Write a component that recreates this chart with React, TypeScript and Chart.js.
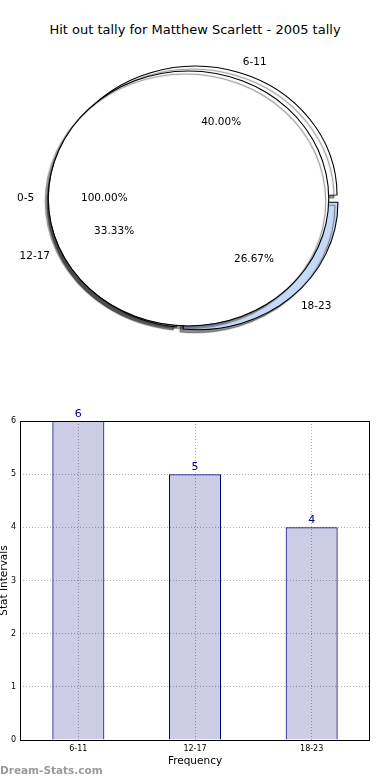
import React, { useEffect, useRef } from 'react';
import { Chart, registerables } from 'chart.js';

Chart.register(...registerables);

const FONT = '"DejaVu Sans", sans-serif';

const TITLE = 'Hit out tally for Matthew Scarlett - 2005 tally';

// Pie: wedges listed clockwise starting at 3 o'clock
const sliceLabels = ['18-23', '12-17', '6-11'];
const sliceValues = [4, 5, 6];
const sliceColors = ['#c6d9f7', '#ffffff', '#ffffff'];
const sliceExplode = [5, 3, 3.5];
const fullLabels = ['0-5'];
const fullValues = [1];
const fullPctText = ['100.00%'];

// Bar chart
const barCategories = ['6-11', '12-17', '18-23'];
const barValues = [6, 5, 4];
const yMin = 0;
const yMax = 6;

const SX = 1.1; // horizontal stretch of the pie (ellipse)
const R = 127.5;

function ellipsePlugin(id: string) {
  return {
    id,
    beforeDatasetsDraw(chart: any) {
      const ctx = chart.ctx;
      const { left, right } = chart.chartArea;
      const cx = (left + right) / 2;
      ctx.save();
      ctx.translate(cx, 0);
      ctx.scale(SX, 1);
      ctx.translate(-cx, 0);
      ctx.shadowColor = 'rgba(0,0,0,0.45)';
      ctx.shadowOffsetX = -3;
      ctx.shadowOffsetY = 3;
      ctx.shadowBlur = 1;
    },
    afterDatasetsDraw(chart: any) {
      chart.ctx.restore();
    },
  };
}

export default function App() {
  const pieRef = useRef<HTMLCanvasElement>(null);
  const discRef = useRef<HTMLCanvasElement>(null);
  const barRef = useRef<HTMLCanvasElement>(null);

  useEffect(() => {
    const total = sliceValues.reduce((a, b) => a + b, 0);
    const slicePct = sliceValues.map((v) => ((v / total) * 100).toFixed(2) + '%');

    const pie = new Chart(pieRef.current as HTMLCanvasElement, {
      type: 'pie',
      data: {
        labels: sliceLabels,
        datasets: [
          {
            data: sliceValues,
            backgroundColor: sliceColors,
            borderColor: '#000',
            borderWidth: 1,
            offset: sliceExplode.map((d) => d * 4),
            clip: false,
          } as any,
        ],
      },
      options: {
        responsive: false,
        animation: false,
        events: [],
        radius: R,
        rotation: 90,
        layout: { padding: { top: 17, right: 2, left: 0, bottom: 0 } },
        plugins: { legend: { display: false }, tooltip: { enabled: false } },
      } as any,
      plugins: [ellipsePlugin('ellA')],
    });

    const labelPlugin = {
      id: 'pieLabels',
      afterDraw(chart: any) {
        const ctx = chart.ctx;
        ctx.save();
        ctx.font = `10.5px ${FONT}`;
        ctx.fillStyle = '#000';
        ctx.textBaseline = 'middle';
        const drawFor = (c: any, dsIndex: number, labels: string[], pcts: string[]) => {
          const { left, right } = c.chartArea;
          const cxA = (left + right) / 2;
          const meta = c.getDatasetMeta(dsIndex);
          meta.data.forEach((arc: any, i: number) => {
            const mid = (arc.startAngle + arc.endAngle) / 2;
            const off = (arc.options.offset || 0) / 4;
            const ox = arc.x + Math.cos(mid) * off;
            const oy = arc.y + Math.sin(mid) * off;
            const sx = (x: number) => cxA + (x - cxA) * SX;
            const lx = sx(ox + Math.cos(mid) * R * 1.1);
            const ly = oy + Math.sin(mid) * R * 1.1;
            const px = sx(ox + Math.cos(mid) * R * 0.6);
            const py = oy + Math.sin(mid) * R * 0.6;
            ctx.textAlign = Math.cos(mid) >= 0 ? 'left' : 'right';
            ctx.fillText(labels[i], lx, ly);
            ctx.textAlign = 'center';
            ctx.fillText(pcts[i], px, py);
          });
        };
        drawFor(chart, 1, fullLabels, fullPctText);
        drawFor(pie, 0, sliceLabels, slicePct);
        ctx.restore();
      },
    };

    // full 0-5 wedge: a 1px black rim ring (outline) around a white disc
    const disc = new Chart(discRef.current as HTMLCanvasElement, {
      type: 'pie',
      data: {
        labels: fullLabels,
        datasets: [
          {
            data: fullValues,
            backgroundColor: '#000000',
            borderWidth: 0,
            weight: 1,
            clip: false,
          } as any,
          {
            data: fullValues,
            backgroundColor: '#ffffff',
            borderWidth: 0,
            weight: R - 1,
            clip: false,
          } as any,
        ],
      },
      options: {
        responsive: false,
        animation: false,
        events: [],
        radius: R + 0.5,
        rotation: 90,
        layout: { padding: { top: 17, right: 13, left: 0, bottom: 0 } },
        plugins: { legend: { display: false }, tooltip: { enabled: false } },
      } as any,
      plugins: [ellipsePlugin('ellB'), labelPlugin],
    });

    const framePlugin = {
      id: 'frame',
      afterDatasetsDraw(chart: any) {
        const ctx = chart.ctx;
        const { left, right, top, bottom } = chart.chartArea;
        ctx.save();
        ctx.strokeStyle = '#000';
        ctx.lineWidth = 1;
        ctx.strokeRect(Math.round(left) + 0.5, Math.round(top) + 0.5, Math.round(right - left) - 1, Math.round(bottom - top));
        const meta = chart.getDatasetMeta(0);
        ctx.fillStyle = '#000080';
        ctx.font = `11px ${FONT}`;
        ctx.textAlign = 'center';
        ctx.textBaseline = 'alphabetic';
        meta.data.forEach((bar: any, i: number) => {
          ctx.fillText(String(barValues[i]), bar.x, bar.y - 4);
        });
        ctx.restore();
      },
    };

    const bar = new Chart(barRef.current as HTMLCanvasElement, {
      type: 'bar',
      data: {
        labels: barCategories,
        datasets: [
          {
            data: barValues,
            backgroundColor: 'rgba(0,0,128,0.2)',
            borderColor: '#000080',
            borderWidth: 1,
            barPercentage: 0.446,
            categoryPercentage: 1,
          },
        ],
      },
      options: {
        responsive: false,
        animation: false,
        events: [],
        layout: { padding: { top: 31, right: 20, left: 0, bottom: 0 } },
        plugins: { legend: { display: false }, tooltip: { enabled: false } },
        scales: {
          x: {
            offset: true,
            grid: { color: '#b0b0b0', offset: false, drawTicks: false, lineWidth: 1 },
            border: { display: false, dash: [1, 2] },
            ticks: { font: { size: 8, family: FONT }, color: '#000', padding: 4, maxRotation: 0 },
            title: {
              display: true,
              text: 'Frequency',
              font: { size: 10.5, family: FONT },
              color: '#000',
              padding: { top: 0, bottom: 12 },
            },
            afterFit: (s: any) => {
              s.height = 40;
            },
          },
          y: {
            min: yMin,
            max: yMax,
            grid: { color: '#b0b0b0', drawTicks: false, lineWidth: 1 },
            border: { display: false, dash: [1, 2] },
            ticks: { stepSize: 1, font: { size: 8, family: FONT }, color: '#000', padding: 4 },
            title: {
              display: true,
              text: 'Stat Intervals',
              font: { size: 10.5, family: FONT },
              color: '#000',
              padding: { top: -2, bottom: 0 },
            },
            afterFit: (s: any) => {
              s.width = 20;
            },
          },
        },
      } as any,
      plugins: [framePlugin],
    });

    return () => {
      pie.destroy();
      disc.destroy();
      bar.destroy();
    };
  }, []);

  return (
    <div style={{ position: 'absolute', left: 0, top: 0, width: 390, height: 780, background: '#fff', fontFamily: FONT }}>
      <div
        style={{
          position: 'absolute',
          top: 22,
          left: 0,
          width: 390,
          textAlign: 'center',
          fontSize: 13,
          lineHeight: '16px',
          color: '#000',
        }}
      >
        {TITLE}
      </div>
      <canvas ref={pieRef} width={390} height={380} style={{ position: 'absolute', left: 0, top: 0 }} />
      <canvas ref={discRef} width={390} height={380} style={{ position: 'absolute', left: 0, top: 0 }} />
      <canvas ref={barRef} width={390} height={390} style={{ position: 'absolute', left: 0, top: 390 }} />
      <div
        style={{
          position: 'absolute',
          left: 0,
          top: 762,
          fontSize: 10.5,
          lineHeight: '16px',
          color: '#9a9a9a',
          fontWeight: 'bold',
        }}
      >
        Dream-Stats.com
      </div>
    </div>
  );
}
